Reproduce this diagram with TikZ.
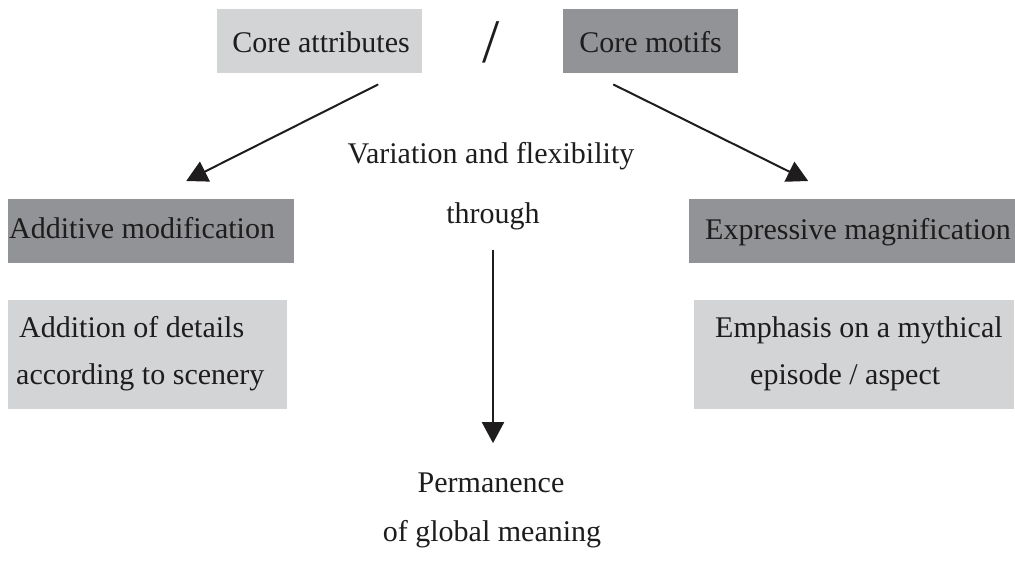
\documentclass[tikz,border=0pt]{standalone}
\usepackage{fontspec}
\setmainfont{Liberation Serif}
\usetikzlibrary{arrows.meta,calc}
\definecolor{lightgr}{RGB}{211,212,214}
\definecolor{darkgr}{RGB}{146,147,150}
\definecolor{ink}{RGB}{30,28,28}
\begin{document}
\begin{tikzpicture}[x=1pt,y=-1pt,
  lightbox/.style={fill=lightgr,draw=none,inner sep=0pt,anchor=north west},
  darkbox/.style={fill=darkgr,draw=none,inner sep=0pt,anchor=north west},
  txt/.style={inner sep=0pt,text=ink,font=\fontsize{30}{36}\selectfont},
  arr/.style={draw=ink,line width=2pt,-{Triangle[length=21pt,width=22pt]}}]
\useasboundingbox (0,0) rectangle (1015,562);
% boxes
\node[lightbox,minimum width=205pt,minimum height=64pt] (ca) at (217,9) {};
\node[darkbox,minimum width=175pt,minimum height=64pt] (cm) at (563,9) {};
\node[darkbox,minimum width=286pt,minimum height=64pt] (am) at (8,199) {};
\node[darkbox,minimum width=326pt,minimum height=64pt] (em) at (689,199) {};
\node[lightbox,minimum width=279pt,minimum height=109pt] (ad) at (8,300) {};
\node[lightbox,minimum width=320pt,minimum height=109pt] (ep) at (694,300) {};
% texts
\node[txt,anchor=base] (cat) at (321,52) {Core attributes};
\node[txt,anchor=base] (cmt) at (650.5,52) {Core motifs};
\node[txt,anchor=center,font=\fontsize{62}{70}\selectfont] (slash) at (491,42) {/};
\node[txt,anchor=base west] (amt) at (9,238) {Additive modification};
\node[txt,anchor=base west] (emt) at (705,239) {Expressive magnification};
\node[txt,anchor=base west] (adt1) at (19,337) {Addition of details};
\node[txt,anchor=base west] (adt2) at (16,384) {according to scenery};
\node[txt,anchor=base west] (ept1) at (715,337) {Emphasis on a mythical};
\node[txt,anchor=base west] (ept2) at (750,384) {episode / aspect};
\node[txt,anchor=base] (var) at (491,163) {Variation and flexibility};
\node[txt,anchor=base] (thr) at (493,223) {through};
\node[txt,anchor=base] (perm) at (491,492) {Permanence};
\node[txt,anchor=base] (glob) at (492,541) {of global meaning};
% connectors
\draw[arr] ([xshift=58.5pt,yshift=-11pt]ca.south) -- ([xshift=35pt,yshift=18pt]am.north);
\draw[arr] ([xshift=-37.5pt,yshift=-11pt]cm.south) -- ([xshift=-44pt,yshift=18pt]em.north);
\draw[arr] ([yshift=-20.5pt]thr.south) -- ([yshift=29pt]thr.south |- perm.north);
\end{tikzpicture}
\end{document}
